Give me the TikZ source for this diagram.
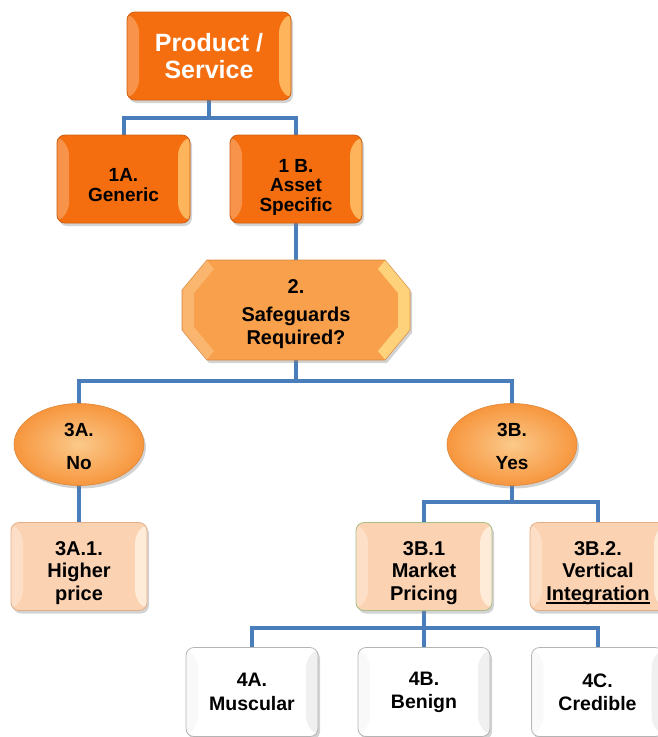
\documentclass[tikz,border=0pt]{standalone}
\usepackage{fontspec}
\setmainfont{Liberation Sans}
\usetikzlibrary{shapes.geometric,shadows,backgrounds}
\definecolor{dorange}{HTML}{F46E10}
\definecolor{dorangeL}{HTML}{F7934A}
\definecolor{dorangeR}{HTML}{FDB45A}
\definecolor{morange}{HTML}{F8A04C}
\definecolor{morangeL}{HTML}{FAB56E}
\definecolor{morangeR}{HTML}{FDD27A}
\definecolor{eorange}{HTML}{F7963E}
\definecolor{eorangeIn}{HTML}{FBC98A}
\definecolor{peach}{HTML}{FBD3B2}
\definecolor{peachL}{HTML}{FCDFC6}
\definecolor{peachR}{HTML}{FEEBD8}
\definecolor{peachedge}{HTML}{E2AE88}
\definecolor{greenedge}{HTML}{A9BE84}
\definecolor{greyedge}{HTML}{B4B4B4}
\definecolor{whiteL}{HTML}{F9F9F9}
\definecolor{whiteR}{HTML}{F0F0F0}
\definecolor{connc}{HTML}{4A7EBB}
\newcommand{\thickul}[1]{\leavevmode\setbox0=\hbox{#1}\rlap{\rule[-3.5pt]{\wd0}{1.8pt}}\box0}
\newcommand{\tg}[1]{\rule{0pt}{#1pt}}
\begin{document}
\begin{tikzpicture}[x=1pt,y=-1pt,
  box/.style={rectangle, rounded corners=8pt, inner sep=0pt, align=center, line width=0.8pt,
    drop shadow={opacity=0.35,shadow xshift=2pt,shadow yshift=-3pt}},
  bevel/.style 2 args={path picture={
    \fill[#1] (path picture bounding box.north west) -- ([shift={(12pt,-12pt)}]path picture bounding box.north west)
       -- ([shift={(12pt,12pt)}]path picture bounding box.south west) -- (path picture bounding box.south west) -- cycle;
    \fill[#2] (path picture bounding box.north east) -- ([shift={(-12pt,-12pt)}]path picture bounding box.north east)
       -- ([shift={(-12pt,12pt)}]path picture bounding box.south east) -- (path picture bounding box.south east) -- cycle;
  }},
  dbox/.style={box, fill=dorange, draw=dorange!85!black, bevel={dorangeL}{dorangeR}},
  dtxt/.style={font=\fontsize{19}{19.8}\selectfont\bfseries},
  pbox/.style={box, fill=peach, draw=peachedge, bevel={peachL}{peachR}, minimum width=136pt, minimum height=88pt,
    font=\fontsize{20}{22.4}\selectfont\bfseries},
  wbox/.style={box, fill=white, draw=greyedge, bevel={whiteL}{whiteR}, minimum width=132pt, minimum height=89pt,
    font=\fontsize{19.5}{23.3}\selectfont\bfseries},
  ell/.style={ellipse, inner sep=0pt, minimum width=130pt, minimum height=82pt, align=center,
    inner color=eorangeIn, outer color=eorange, draw=eorange!90!black, line width=0.6pt,
    drop shadow={opacity=0.35,shadow xshift=2pt,shadow yshift=-3pt},
    font=\fontsize{19}{33}\selectfont\bfseries},
  connector/.style={draw=connc, line width=4pt, line join=miter}
]
\useasboundingbox (0,0) rectangle (658,737);
\clip (0,0) rectangle (658,737);

% level 0
\node[dbox, minimum width=164pt, minimum height=88pt, text=white,
      font=\fontsize{25}{26.7}\selectfont\bfseries] (ps) at (209,56) {Product /\\Service};
% level 1
\node[dbox, dtxt, minimum width=133pt, minimum height=88pt] (g1a) at (123.5,179) {\tg{25.6}1A.\\Generic};
\node[dbox, dtxt, minimum width=132pt, minimum height=88pt] (g1b) at (296,179) {\tg{29.8}1 B.\\Asset\\Specific};
% level 2: octagon drawn directly, text node on top
\begin{scope}[shift={(296,310)}]
\fill[morange, draw=morange!85!black, line width=0.6pt,
      drop shadow={opacity=0.35,shadow xshift=2pt,shadow yshift=-3pt}]
  (-114,-20) -- (-89,-50) -- (89,-50) -- (114,-20) -- (114,20) -- (89,50) -- (-89,50) -- (-114,20) -- cycle;
\fill[morangeL] (-113.5,-20) -- (-89,-49.5) -- (-82,-41) -- (-102,-17) -- (-102,17) -- (-82,41) -- (-89,49.5) -- (-113.5,20) -- cycle;
\fill[morangeR] (113.5,-20) -- (89,-49.5) -- (82,-41) -- (102,-17) -- (102,17) -- (82,41) -- (89,49.5) -- (113.5,20) -- cycle;
\end{scope}
\node[rectangle, minimum width=228pt, minimum height=100pt, inner sep=0pt, align=center,
      font=\fontsize{20}{23}\selectfont\bfseries] (oct) at (296,310) {\tg{21.8}2.\\[5pt]Safeguards\\Required?};
% level 3
\node[ell] (e3a) at (79,444.5) {\tg{18}3A.\\No};
\node[ell] (e3b) at (512,444.5) {\tg{18}3B.\\Yes};
% level 3 children
\node[pbox] (b3a1) at (79,566.5) {\tg{27}3A.1.\\Higher\\price};
\node[pbox, draw=greenedge] (b3b1) at (424,566.5) {\tg{27}3B.1\\Market\\Pricing};
\node[pbox] (b3b2) at (598,566.5) {\tg{27}3B.2.\\Vertical\\\thickul{Integration}};
% level 4
\node[wbox] (b4a) at (252,692) {4A.\\Muscular};
\node[wbox] (b4b) at (424,692) {4B.\\Benign};
\node[wbox] (b4c) at (597.5,692) {4C.\\Credible};

% connectors
\coordinate (j1) at (209,118);
\coordinate (j2) at (296,381);
\coordinate (j3) at (512,502);
\coordinate (j4) at (424,628);
\begin{scope}[on background layer]
\draw[connector] (ps) -- (j1);
\draw[connector] (g1a.north) |- (j1) -| (g1b.north);
\draw[connector] (g1b) -- (oct);
\draw[connector] (oct) -- (j2);
\draw[connector] (e3a.north) |- (j2) -| (e3b.north);
\draw[connector] (e3a) -- (b3a1);
\draw[connector] (e3b) -- (j3);
\draw[connector] (b3b1.north) |- (j3) -| (b3b2.north);
\draw[connector] (b3b1) -- (j4);
\draw[connector] (b4a.north) |- (j4) -| (b4c.north);
\draw[connector] (j4) -- (b4b);
\end{scope}
\end{tikzpicture}
\end{document}
